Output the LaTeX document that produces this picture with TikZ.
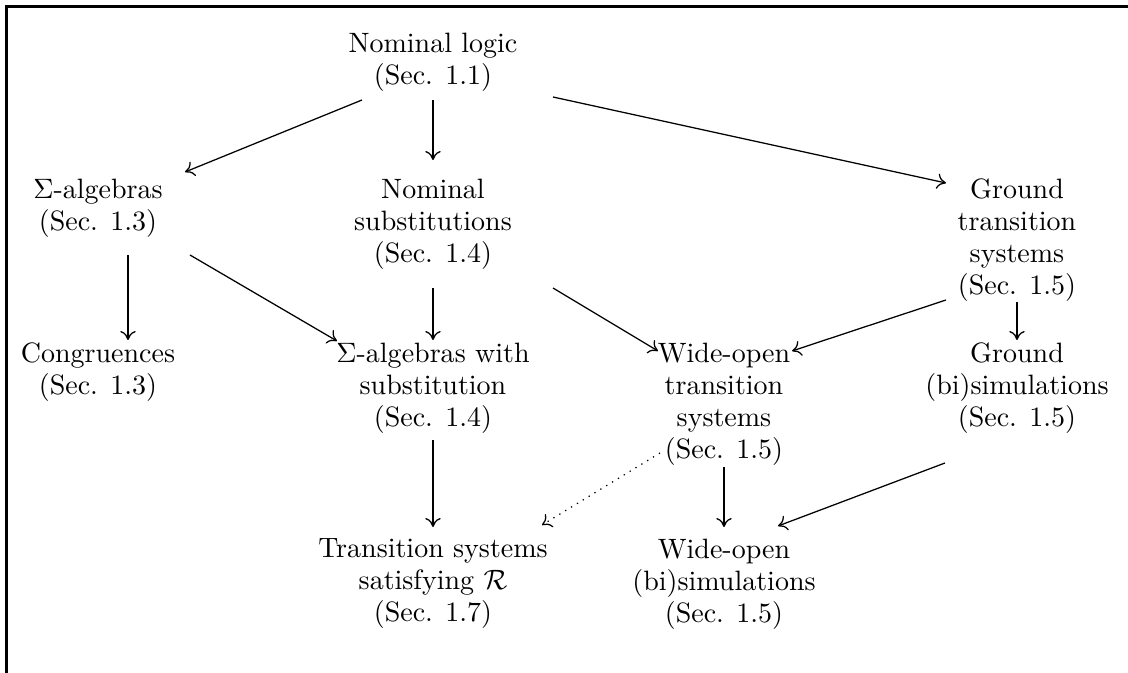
\documentclass[tikz,border=0pt]{standalone}
\usepackage{amsmath}
\usetikzlibrary{arrows.meta}
\begin{document}
\begin{tikzpicture}[x=0.357pt,y=-0.357pt,
  lbl/.style={anchor=north,inner sep=0pt,align=center,font=\fontsize{10}{11.5}\selectfont},
  arr/.style={line width=0.45pt,-{To[length=3.2pt,width=5.5pt]}},
  dotarr/.style={arr,dotted}]
\useasboundingbox (0,0) rectangle (1128,673);
\draw[line width=0.8pt] (6.5,673) -- (6.5,6.5) -- (1128,6.5);
\node[lbl] (nl) at (433,32) {Nominal logic\\(Sec. 1.1)};
\node[lbl] (sa) at (98,178) {$\Sigma$-algebras\\(Sec. 1.3)};
\node[lbl] (ns) at (433,178) {Nominal\\substitutions\\(Sec. 1.4)};
\node[lbl] (gt) at (1017,178) {Ground\\transition\\systems\\(Sec. 1.5)};
\node[lbl] (co) at (98,342) {Congruences\\(Sec. 1.3)};
\node[lbl] (sw) at (433,342) {$\Sigma$-algebras with\\substitution\\(Sec. 1.4)};
\node[lbl] (wt) at (724,342) {Wide-open\\transition\\systems\\(Sec. 1.5)};
\node[lbl] (gb) at (1017,342) {Ground\\(bi)simulations\\(Sec. 1.5)};
\node[lbl] (tr) at (433,538) {Transition systems\\satisfying $\mathcal{R}$\\(Sec. 1.7)};
\node[lbl] (wb) at (724,538) {Wide-open\\(bi)simulations\\(Sec. 1.5)};
\draw[arr] ([shift={(-71,68)}]nl.north) -- ([shift={(87,-6)}]sa.north);
\draw[arr] ([shift={(0,68)}]nl.north) -- ([shift={(0,-18)}]ns.north);
\draw[arr] ([shift={(120,65)}]nl.north) -- ([shift={(-71,5)}]gt.north);
\draw[arr] ([shift={(30,77)}]sa.north) -- ([shift={(30,-2)}]co.north);
\draw[arr] ([shift={(92,77)}]sa.north) -- ([shift={(-96,-1)}]sw.north);
\draw[arr] ([shift={(0,110)}]ns.north) -- ([shift={(0,-2)}]sw.north);
\draw[arr] ([shift={(120,110)}]ns.north) -- ([shift={(-66,9)}]wt.north);
\draw[arr] ([shift={(-71,122)}]gt.north) -- ([shift={(68,9)}]wt.north);
\draw[arr] ([shift={(0,124)}]gt.north) -- ([shift={(0,-2)}]gb.north);
\draw[arr] ([shift={(0,98)}]sw.north) -- ([shift={(0,-11)}]tr.north);
\draw[dotarr] ([shift={(-64,111)}]wt.north) -- ([shift={(109,-13)}]tr.north);
\draw[arr] ([shift={(0,125)}]wt.north) -- ([shift={(0,-11)}]wb.north);
\draw[arr] ([shift={(-72,121)}]gb.north) -- ([shift={(54,-12)}]wb.north);
\end{tikzpicture}
\end{document}
